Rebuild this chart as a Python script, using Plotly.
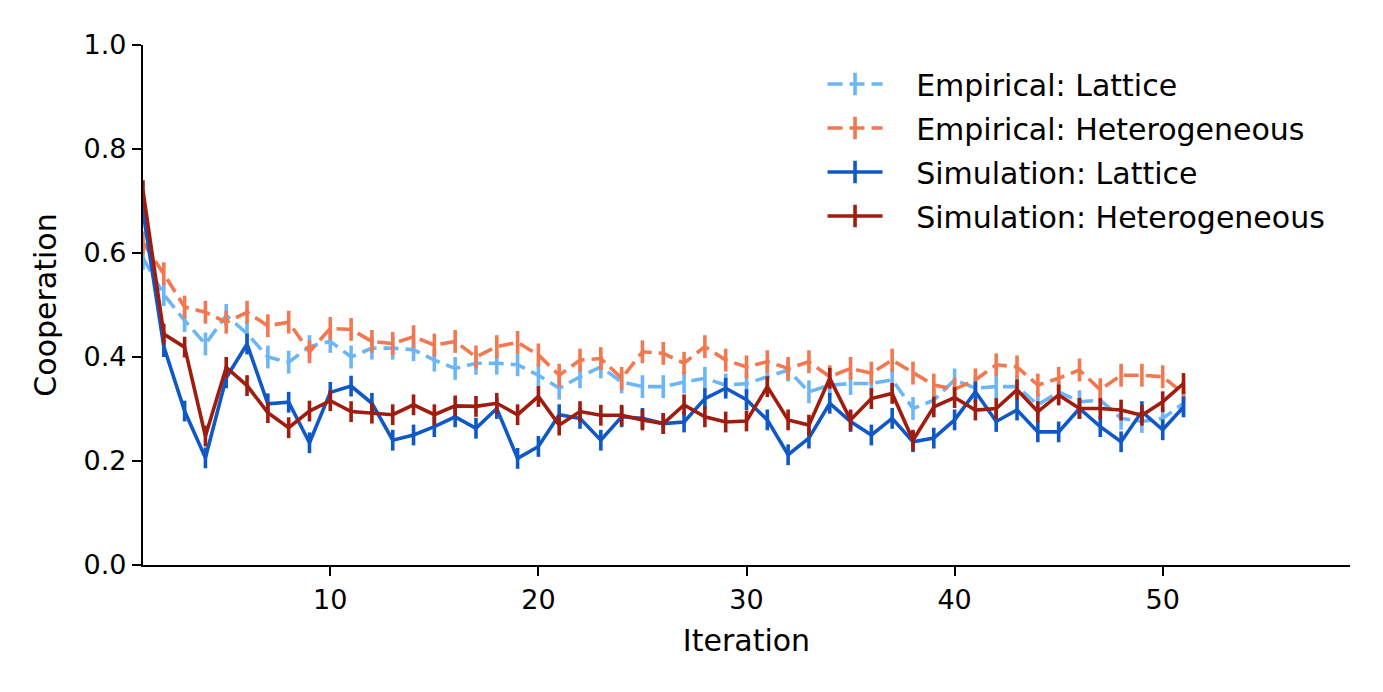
import plotly.graph_objects as go

iterations = list(range(1, 52))

emp_lattice = [0.59, 0.52, 0.47, 0.425, 0.48, 0.445, 0.40, 0.39, 0.42, 0.43,
               0.40, 0.417, 0.417, 0.414, 0.394, 0.378, 0.388, 0.388, 0.385, 0.365,
               0.34, 0.362, 0.381, 0.352, 0.343, 0.343, 0.352, 0.359, 0.346, 0.349,
               0.362, 0.375, 0.333, 0.346, 0.349, 0.349, 0.356, 0.301, 0.317, 0.356,
               0.34, 0.343, 0.343, 0.308, 0.333, 0.314, 0.317, 0.282, 0.276, 0.282,
               0.311]
emp_hetero = [0.62, 0.56, 0.496, 0.486, 0.467, 0.486, 0.46, 0.467, 0.41, 0.455,
              0.453, 0.43, 0.426, 0.439, 0.423, 0.43, 0.40, 0.42, 0.428, 0.404,
              0.365, 0.394, 0.397, 0.359, 0.41, 0.407, 0.388, 0.42, 0.394, 0.381,
              0.391, 0.378, 0.391, 0.362, 0.378, 0.369, 0.394, 0.369, 0.346, 0.338,
              0.356, 0.385, 0.381, 0.346, 0.359, 0.375, 0.337, 0.365, 0.365, 0.362,
              0.33]
sim_lattice = [0.68, 0.42, 0.296, 0.206, 0.36, 0.425, 0.31, 0.313, 0.235, 0.332,
               0.344, 0.311, 0.24, 0.25, 0.266, 0.285, 0.263, 0.301, 0.205, 0.228,
               0.289, 0.282, 0.24, 0.285, 0.282, 0.272, 0.275, 0.32, 0.34, 0.318,
               0.279, 0.212, 0.244, 0.311, 0.276, 0.25, 0.282, 0.237, 0.244, 0.279,
               0.333, 0.276, 0.298, 0.256, 0.256, 0.301, 0.266, 0.237, 0.295, 0.26,
               0.304]
sim_hetero = [0.72, 0.444, 0.419, 0.248, 0.38, 0.345, 0.293, 0.264, 0.296, 0.316,
              0.295, 0.292, 0.289, 0.308, 0.289, 0.306, 0.305, 0.311, 0.289, 0.324,
              0.269, 0.295, 0.288, 0.288, 0.279, 0.272, 0.308, 0.285, 0.275, 0.277,
              0.343, 0.279, 0.269, 0.359, 0.279, 0.32, 0.33, 0.24, 0.304, 0.322,
              0.298, 0.301, 0.337, 0.295, 0.327, 0.301, 0.301, 0.298, 0.288, 0.314,
              0.349]

# standard errors look about the same at every point
err_emp = 0.022
err_sim = 0.02

series = [
    ("Empirical: Lattice", emp_lattice, err_emp, "#6cb6f7", "15px,7px"),
    ("Empirical: Heterogeneous", emp_hetero, err_emp, "#f3774f", "15px,7px"),
    ("Simulation: Lattice", sim_lattice, err_sim, "#1158c7", "solid"),
    ("Simulation: Heterogeneous", sim_hetero, err_sim, "#a01c0e", "solid"),
]

LW = 3.6
NBSP = "\u00a0\u00a0\u00a0"

fig = go.Figure()
for i, (name, vals, err, color, dash) in enumerate(series):
    fig.add_trace(go.Scatter(
        x=iterations, y=vals, mode="lines", showlegend=False,
        line=dict(color=color, width=LW, dash=dash),
        error_y=dict(type="constant", value=err, color=color, thickness=LW, width=0),
    ))
    # legend proxy so the entry shows the error-bar tick
    fig.add_trace(go.Scatter(
        x=[None], y=[None], mode="lines+markers", name=NBSP + name,
        legendgroup=str(i),
        line=dict(color=color, width=LW, dash=dash),
        marker=dict(symbol="line-ns-open", size=26, color=color,
                    line=dict(color=color, width=LW)),
    ))

tick_font = dict(family="DejaVu Sans", size=27, color="black")
title_font = dict(family="DejaVu Sans", size=30, color="black")
fig.update_layout(
    width=1383, height=692,
    # page adds an 8px offset, margins compensate
    margin=dict(l=135, r=41, t=37, b=135),
    paper_bgcolor="white", plot_bgcolor="white",
    font=tick_font,
    legend=dict(x=0.563, y=0.975, xanchor="left", yanchor="top",
                font=dict(family="DejaVu Sans", size=30, color="black"),
                itemwidth=55, tracegroupgap=2, traceorder="grouped",
                bgcolor="rgba(0,0,0,0)"),
    xaxis=dict(range=[1, 59], tickvals=[10, 20, 30, 40, 50],
               title=dict(text="Iteration", font=title_font, standoff=16),
               showline=True, linecolor="black", linewidth=2.2,
               ticks="outside", ticklen=9, tickwidth=2.2, tickcolor="black",
               showgrid=False, zeroline=False, tickfont=tick_font),
    yaxis=dict(range=[0, 1], tickvals=[0, 0.2, 0.4, 0.6, 0.8, 1.0], tickformat=".1f",
               title=dict(text="Cooperation", font=title_font, standoff=18),
               showline=True, linecolor="black", linewidth=2.2,
               ticks="outside", ticklen=9, tickwidth=2.2, tickcolor="black",
               showgrid=False, zeroline=False, tickfont=tick_font),
)

fig.write_html("out.html")
